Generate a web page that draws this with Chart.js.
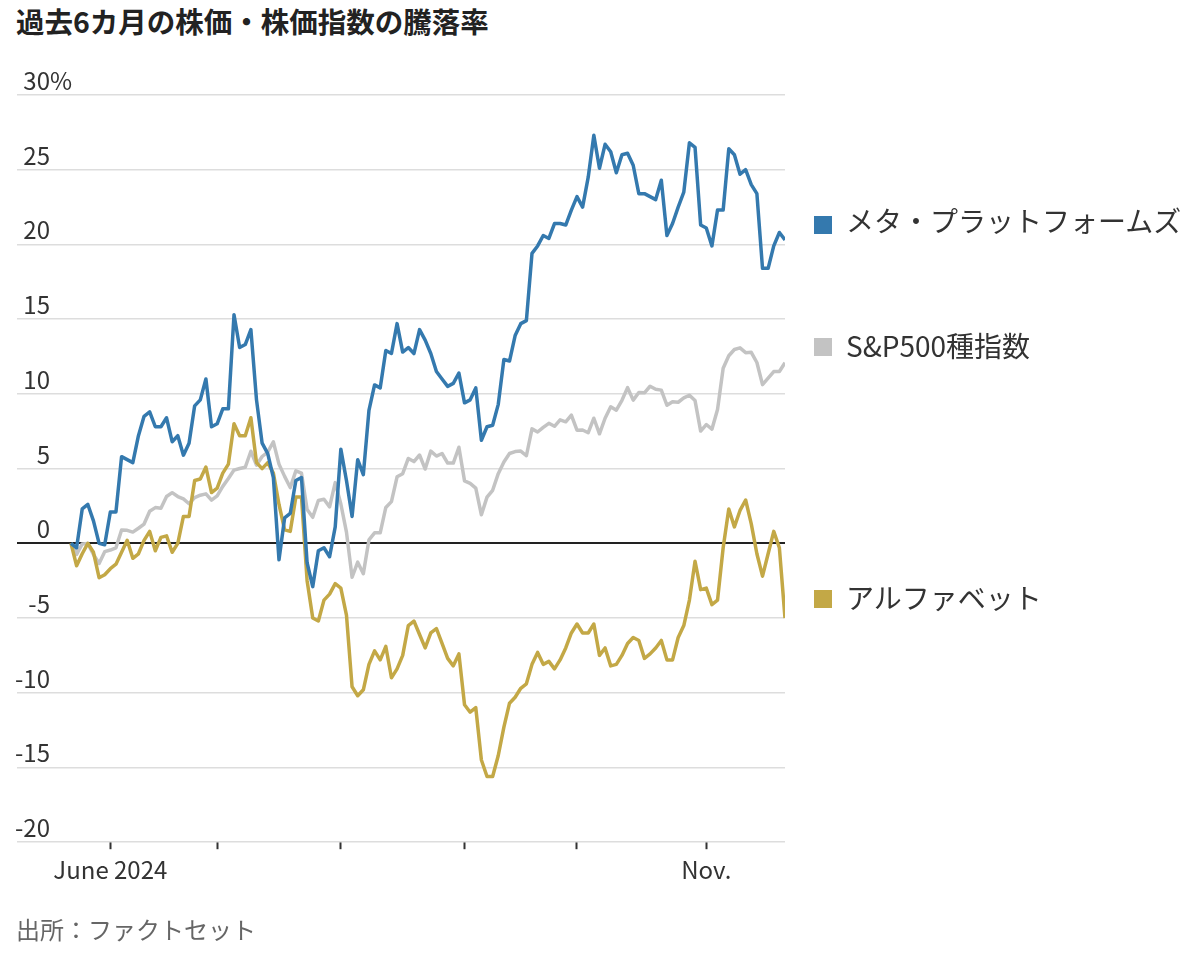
<!DOCTYPE html>
<html lang="ja">
<head>
<meta charset="utf-8">
<title>過去6カ月の株価・株価指数の騰落率</title>
<script src="https://cdn.jsdelivr.net/npm/chart.js@4.4.1/dist/chart.umd.min.js"></script>
<style>
  html, body { margin: 0; padding: 0; background: #fff; }
  body {
    width: 1200px; height: 974px; position: relative; overflow: hidden;
    font-family: "Noto Sans CJK JP", "Noto Sans", sans-serif; color: #333;
  }
  #chart { position: absolute; left: 0; top: 0; }
  .title {
    position: absolute; left: 16px; top: 7px; margin: 0;
    font-size: 28.5px; line-height: 1; font-weight: 700; color: #222;
  }
  .source {
    position: absolute; left: 16px; top: 917px;
    font-size: 24px; line-height: 1; color: #666;
  }
  .key { position: absolute; left: 0; top: 0; }
  .key i { position: absolute; left: 814px; width: 18px; height: 18px; }
  .key span {
    position: absolute; left: 846px; white-space: nowrap;
    font-size: 28px; line-height: 1; color: #333;
  }
</style>
</head>
<body>
<h1 class="title">過去6カ月の株価・株価指数の騰落率</h1>
<canvas id="chart" width="1200" height="974"></canvas>
<div class="key" id="key"></div>
<div class="source">出所：ファクトセット</div>

<script>
// 取引日 (2024年5月22日〜11月21日)
const dates = [
  '5/22', '5/23', '5/24', '5/28', '5/29', '5/30', '5/31',
  '6/3', '6/4', '6/5', '6/6', '6/7', '6/10', '6/11', '6/12', '6/13', '6/14',
  '6/17', '6/18', '6/20', '6/21', '6/24', '6/25', '6/26', '6/27', '6/28',
  '7/1', '7/2', '7/3', '7/5', '7/8', '7/9', '7/10', '7/11', '7/12', '7/15', '7/16',
  '7/17', '7/18', '7/19', '7/22', '7/23', '7/24', '7/25', '7/26', '7/29', '7/30', '7/31',
  '8/1', '8/2', '8/5', '8/6', '8/7', '8/8', '8/9', '8/12', '8/13', '8/14', '8/15',
  '8/16', '8/19', '8/20', '8/21', '8/22', '8/23', '8/26', '8/27', '8/28', '8/29', '8/30',
  '9/3', '9/4', '9/5', '9/6', '9/9', '9/10', '9/11', '9/12', '9/13', '9/16',
  '9/17', '9/18', '9/19', '9/20', '9/23', '9/24', '9/25', '9/26', '9/27', '9/30',
  '10/1', '10/2', '10/3', '10/4', '10/7', '10/8', '10/9', '10/10', '10/11', '10/14', '10/15',
  '10/16', '10/17', '10/18', '10/21', '10/22', '10/23', '10/24', '10/25', '10/28', '10/29', '10/30', '10/31',
  '11/1', '11/4', '11/5', '11/6', '11/7', '11/8', '11/11', '11/12', '11/13', '11/14', '11/15',
  '11/18', '11/19', '11/20', '11/21'
];

// 騰落率 (%)
const metaValues = [
  0, -0.3, 2.3, 2.6, 1.5, 0, -0.1,
  2.1, 2.1, 5.8, 5.6, 5.4, 7.2, 8.5, 8.8, 7.8, 7.8, 8.4, 6.8, 7.2, 5.9, 6.7, 9.2, 9.6, 11.0, 7.8,
  8.0, 9.0, 9.0, 15.3, 13.1, 13.3, 14.3, 9.6, 6.7, 6.0, 4.4, -1.1, 1.7, 2.0, 4.2, 4.4, -1.3, -2.9, -0.5, -0.3, -0.9, 1.1,
  6.3, 4.2, 1.8, 5.6, 4.6, 8.9, 10.6, 10.4, 12.9, 12.7, 14.7, 12.8, 13.1, 12.7, 14.3, 13.6, 12.7, 11.5, 11.0, 10.5, 10.7, 11.4,
  9.4, 9.6, 10.4, 6.9, 7.8, 7.9, 9.3, 12.3, 12.2, 13.9, 14.7, 14.9, 19.4, 19.9, 20.6, 20.4, 21.4, 21.4, 21.3, 22.3,
  23.2, 22.5, 24.5, 27.3, 25.1, 26.7, 26.2, 24.8, 26.0, 26.1, 25.3, 23.4, 23.4, 23.2, 23.0, 24.3, 20.6, 21.4, 22.5, 23.5, 26.8, 26.5, 21.3,
  21.1, 19.9, 22.3, 22.3, 26.4, 26.0, 24.7, 25.0, 24.0, 23.4, 18.4, 18.4, 19.9, 20.8, 20.3
];
const spxValues = [
  0, -0.74, -0.04, -0.02, -0.75, -1.35, -0.56,
  -0.45, -0.30, 0.89, 0.87, 0.75, 1.01, 1.29, 2.15, 2.39, 2.35, 3.13, 3.39, 3.13, 2.97, 2.65, 3.06, 3.22, 3.31, 2.89,
  3.17, 3.81, 4.34, 4.90, 5.01, 5.09, 6.16, 5.23, 5.81, 6.11, 6.79, 5.30, 4.48, 3.73, 4.85, 4.69, 2.26, 1.74, 2.87, 2.95, 2.44, 4.06,
  2.63, 0.75, -2.27, -1.26, -2.03, 0.23, 0.70, 0.70, 2.40, 2.79, 4.45, 4.66, 5.68, 5.47, 5.91, 4.97, 6.17, 5.84, 6.01, 5.37, 5.37, 6.43,
  4.18, 4.01, 3.70, 1.91, 3.09, 3.55, 4.66, 5.44, 6.01, 6.14, 6.17, 5.86, 7.66, 7.45, 7.76, 8.03, 7.83, 8.26, 8.13, 8.58,
  7.57, 7.58, 7.40, 8.37, 7.33, 8.37, 9.14, 8.91, 9.57, 10.42, 9.58, 10.09, 10.07, 10.51, 10.31, 10.25, 9.24, 9.48, 9.44, 9.73, 9.91, 9.55, 7.51,
  7.95, 7.64, 8.96, 11.72, 12.55, 12.97, 13.08, 12.76, 12.78, 12.10, 10.62, 11.05, 11.49, 11.50, 12.09
];
const googValues = [
  0, -1.5, -0.7, 0.0, -0.6, -2.3, -2.1,
  -1.7, -1.4, -0.6, 0.2, -1.0, -0.7, 0.2, 0.8, -0.5, 0.4, 0.5, -0.6, 0.0, 1.8, 1.8, 4.2, 4.3, 5.1, 3.4,
  3.7, 4.7, 5.3, 8.0, 7.2, 7.2, 8.4, 5.4, 5.0, 5.4, 4.7, 2.6, 0.9, 0.8, 3.1, 3.1, -2.5, -5.0, -5.2, -3.8, -3.4, -2.7,
  -3.0, -4.8, -9.6, -10.2, -9.8, -8.1, -7.2, -7.8, -6.9, -9.0, -8.4, -7.5, -5.5, -5.2, -6.1, -7.0, -6.0, -5.7, -6.7, -7.7, -8.2, -7.4,
  -10.8, -11.3, -11.0, -14.5, -15.6, -15.6, -14.2, -12.3, -10.7, -10.3, -9.7, -9.4, -8.1, -7.3, -8.1, -7.9, -8.4, -7.8, -7.0, -6.0,
  -5.4, -6.0, -6.0, -5.4, -7.5, -7.0, -8.2, -8.1, -7.5, -6.7, -6.3, -6.5, -7.7, -7.4, -7.0, -6.5, -7.8, -7.8, -6.3, -5.5, -3.8, -1.2, -3.1,
  -3.0, -4.1, -3.8, -0.3, 2.3, 1.1, 2.2, 2.9, 1.3, -0.7, -2.2, -0.7, 0.8, -0.3, -5.0
];

const seriesNames = ['メタ・プラットフォームズ', 'S&P500種指数', 'アルファベット'];
const seriesColors = ['#3479ae', '#c3c3c3', '#c3a846'];

// 目盛り
const tickDates = ['6/3', '7/1', '8/1', '9/3', '10/1', '11/1'];
const tickLabels = ['June 2024', '', '', '', '', 'Nov.'];
const tickIndex = tickDates.map(d => dates.indexOf(d));
const yTicks = [-20, -15, -10, -5, 0, 5, 10, 15, 20, 25, 30];

// 凡例の縦位置 (四角, 文字)
const keyTops = [[216, 206], [338, 331], [590, 583]];

const key = document.getElementById('key');
seriesNames.forEach((name, i) => {
  const sq = document.createElement('i');
  sq.style.top = keyTops[i][0] + 'px';
  sq.style.background = seriesColors[i];
  const tx = document.createElement('span');
  tx.style.top = keyTops[i][1] + 'px';
  tx.textContent = name;
  key.appendChild(sq);
  key.appendChild(tx);
});

Chart.defaults.font.family = '"Noto Sans CJK JP", "Noto Sans", sans-serif';
Chart.defaults.color = '#333';

const toPoints = arr => arr.map((v, i) => ({ x: i, y: v }));

// y軸ラベルはグリッド線の上、左寄せ
const yLabels = {
  id: 'yLabels',
  afterDraw(chart) {
    const { ctx, scales: { y } } = chart;
    ctx.save();
    ctx.font = '24px "Noto Sans CJK JP"';
    ctx.fillStyle = '#333';
    ctx.textBaseline = 'alphabetic';
    y.ticks.forEach(t => {
      const py = y.getPixelForValue(t.value) - 5;
      ctx.textAlign = 'right';
      ctx.fillText(String(t.value), 50, py);
      if (t.value === y.max) {
        ctx.textAlign = 'left';
        ctx.fillText('%', 50, py);
      }
    });
    ctx.restore();
  }
};

const ctx = document.getElementById('chart').getContext('2d');
new Chart(ctx, {
  type: 'line',
  data: {
    datasets: [
      { label: seriesNames[0], data: toPoints(metaValues), borderColor: seriesColors[0] },
      { label: seriesNames[2], data: toPoints(googValues), borderColor: seriesColors[2] },
      { label: seriesNames[1], data: toPoints(spxValues), borderColor: seriesColors[1] }
    ]
  },
  options: {
    responsive: false,
    animation: false,
    layout: { padding: { left: 17, right: 415, top: 95, bottom: 84 } },
    elements: {
      point: { radius: 0 },
      line: { borderWidth: 3.5, tension: 0, borderJoinStyle: 'round' }
    },
    plugins: {
      legend: { display: false },
      tooltip: {
        callbacks: { title: items => dates[items[0].parsed.x] }
      }
    },
    scales: {
      x: {
        type: 'linear',
        min: -9.6,
        max: dates.length - 1,
        afterBuildTicks: axis => { axis.ticks = tickIndex.map(v => ({ value: v })); },
        ticks: {
          autoSkip: false,
          maxRotation: 0,
          padding: 6,
          color: '#333',
          font: { size: 24 },
          callback: (v, i) => tickLabels[i]
        },
        grid: {
          drawOnChartArea: false,
          tickLength: 7,
          tickColor: '#333',
          tickWidth: 2
        },
        border: { display: false }
      },
      y: {
        min: -20,
        max: 30,
        afterBuildTicks: axis => { axis.ticks = yTicks.map(v => ({ value: v })); },
        ticks: { display: false },
        grid: {
          drawTicks: false,
          color: c => c.tick.value === 0 ? '#222' : '#dddddd',
          lineWidth: c => c.tick.value === 0 ? 2 : 1.5
        },
        border: { display: false }
      }
    }
  },
  plugins: [yLabels]
});
</script>
</body>
</html>
